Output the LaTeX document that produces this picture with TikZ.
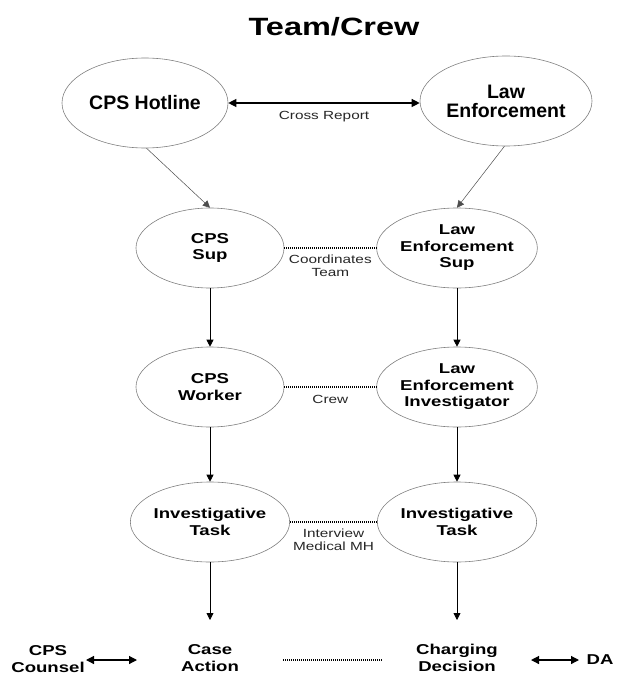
\documentclass[tikz,border=0pt]{standalone}
\usepackage{fontspec}
\setmainfont{Liberation Sans}
\newfontfamily\wf[FakeStretch=1.3]{Liberation Sans}
\newfontfamily\nf{Liberation Sans}
\usetikzlibrary{shapes.geometric,arrows.meta}
\begin{document}
\begin{tikzpicture}[x=1pt,y=-1pt,
  ell/.style={ellipse,draw=black!50,line width=0.6pt,inner sep=0pt,align=center},
  big/.style={font=\nf\bfseries\fontsize{19.5}{19}\selectfont},
  mid/.style={font=\wf\bfseries\fontsize{14.3}{16.5}\selectfont},
  lab/.style={font=\wf\fontsize{11.8}{13}\selectfont,text=black!85,align=center},
  ttl/.style={font=\wf\bfseries\fontsize{25}{25}\selectfont},
  arr/.style={-{Triangle[length=7pt,width=7pt]},line width=0.8pt},
  thinarr/.style={-{Triangle[length=7pt,width=7pt]},line width=0.5pt,draw=black!70},
  dbl/.style={{Triangle[length=8pt,width=8pt]}-{Triangle[length=8pt,width=8pt]},line width=1.2pt},
  dots/.style={line width=1.3pt,dash pattern=on 1pt off 1pt}
]
\useasboundingbox (0,0) rectangle (619,674);
\node[ttl] (title) at (334,27) {Team/Crew};

\node[ell,big,minimum width=166pt,minimum height=90pt] (hot) at (145,103) {CPS Hotline};
\node[ell,big,minimum width=172pt,minimum height=90pt] (le) at (506,101) {Law\\Enforcement};

\node[ell,mid,minimum width=148pt,minimum height=80pt] (csup) at (210,248) {CPS\\Sup};
\node[ell,mid,minimum width=148pt,minimum height=80pt] (lsup) at (457,248) {Law\\Enforcement\\Sup};

\node[ell,mid,minimum width=148pt,minimum height=80pt] (cwork) at (210,387) {CPS\\Worker};
\node[ell,mid,minimum width=148pt,minimum height=80pt] (linv) at (457,387) {Law\\Enforcement\\Investigator};

\node[ell,mid,minimum width=148pt,minimum height=80pt] (ctask) at (210,522) {Investigative\\Task};
\node[ell,mid,minimum width=148pt,minimum height=80pt] (ltask) at (457,522) {Investigative\\Task};

\node[mid,align=center] (counsel) at (48,659) {CPS\\Counsel};
\node[mid,align=center] (case) at (210,658) {Case\\Action};
\node[mid,align=center] (charge) at (457,658) {Charging\\Decision};
\node[mid] (da) at (600,660) {DA};

\coordinate (ca) at (210,620);
\coordinate (cd) at (457,620);
\coordinate (b1) at (86,660);
\coordinate (b2) at (137,660);
\coordinate (b3) at (283,660);
\coordinate (b4) at (382,660);
\coordinate (b5) at (531,660);
\coordinate (b6) at (579,660);

% connectors
\draw[dbl] (hot.east) -- (le.west |- hot.east) node[lab,midway,below=4pt] (crl) {Cross Report};
\draw[thinarr] (hot.-88) -- (csup.north);
\draw[thinarr] (le.-92) -- (lsup.north);

\draw[dots] (csup.east) -- (lsup.west) node[lab,midway,below=3pt] (cot) {Coordinates\\Team};
\draw[dots] (cwork.east) -- (linv.west) node[lab,midway,below=4pt] (crw) {Crew};
\draw[dots] (ctask.east) -- (ltask.west) node[lab,midway,below=3pt] (imm) {Interview\\Medical MH};

\draw[arr] (csup.south) -- (cwork.north);
\draw[arr] (lsup.south) -- (linv.north);
\draw[arr] (cwork.south) -- (ctask.north);
\draw[arr] (linv.south) -- (ltask.north);
\draw[arr] (ctask.south) -- (ca);
\draw[arr] (ltask.south) -- (cd);

\draw[dbl] (b1) -- (b2);
\draw[dots] (b3) -- (b4);
\draw[dbl] (b5) -- (b6);
\end{tikzpicture}
\end{document}
